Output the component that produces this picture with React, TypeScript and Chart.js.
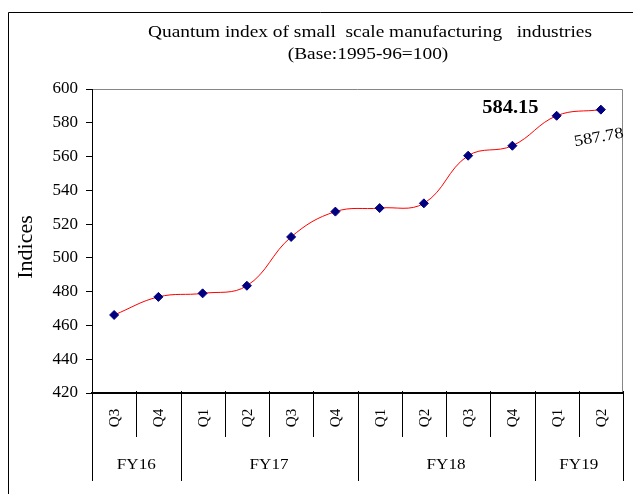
import React, { useEffect, useRef } from "react";
import { Chart, registerables } from "chart.js";

Chart.register(...registerables);

const quarters = ["Q3", "Q4", "Q1", "Q2", "Q3", "Q4", "Q1", "Q2", "Q3", "Q4", "Q1", "Q2"];
const fiscalYears = ["FY16", "FY17", "FY18", "FY19"];
const quartersPerYear = [2, 4, 4, 2];
const indices = [466.2, 476.9, 479.0, 483.5, 512.4, 527.4, 529.5, 532.3, 560.5, 566.4, 584.15, 587.78];
const yTicks = { min: 420, max: 600, step: 20 };
const titleLines = ["Quantum index of small  scale manufacturing   industries", "(Base:1995-96=100)"];
const yTitle = "Indices";
const labelledPoints = [10, 11];

const SERIF = "'Liberation Serif', 'Times New Roman', serif";
const STRETCH = 1.14;

function drawText(ctx: any, text: string, x: number, y: number, font: string, align: string, rot = 0, sx = STRETCH) {
  ctx.save();
  ctx.font = font;
  ctx.textAlign = align;
  ctx.textBaseline = "middle";
  ctx.translate(x, y);
  if (rot) ctx.rotate(rot);
  ctx.scale(sx, 1);
  ctx.fillText(text, 0, 0);
  ctx.restore();
}

const decorPlugin = {
  id: "decor",
  beforeDraw(chart: any) {
    const { ctx, chartArea } = chart;
    ctx.save();
    ctx.fillStyle = "#fff";
    ctx.fillRect(0, 0, chart.width, chart.height);
    ctx.strokeStyle = "#000";
    ctx.lineWidth = 1;
    ctx.beginPath();
    ctx.moveTo(8.5, chart.height);
    ctx.lineTo(8.5, 12.5);
    ctx.lineTo(chart.width, 12.5);
    ctx.stroke();
    ctx.strokeStyle = "#868686";
    ctx.beginPath();
    ctx.moveTo(chartArea.left, chartArea.top + 0.5);
    ctx.lineTo(chartArea.right - 0.5, chartArea.top + 0.5);
    ctx.lineTo(chartArea.right - 0.5, chartArea.bottom);
    ctx.stroke();
    ctx.fillStyle = "#000";
    drawText(ctx, titleLines[0], 370, 33, `17px ${SERIF}`, "center");
    drawText(ctx, titleLines[1], 368, 55, `17px ${SERIF}`, "center");
    ctx.restore();
  },
  afterDraw(chart: any) {
    const { ctx, chartArea } = chart;
    const xs = chart.scales.x;
    const w = xs.getPixelForValue(1) - xs.getPixelForValue(0);
    const bottom = chartArea.bottom;
    ctx.save();
    ctx.strokeStyle = "#000";
    ctx.fillStyle = "#000";
    ctx.lineWidth = 1;
    const groupStarts = new Set<number>();
    let acc = 0;
    quartersPerYear.forEach((n) => {
      groupStarts.add(acc);
      acc += n;
    });
    groupStarts.add(acc);
    for (let i = 0; i <= quarters.length; i++) {
      const bx = Math.round(xs.getPixelForValue(i) - w / 2) + 0.5;
      const isGroup = groupStarts.has(i);
      ctx.beginPath();
      ctx.moveTo(bx, bottom - 2);
      ctx.lineTo(bx, isGroup ? 481 : 437);
      ctx.stroke();
    }
    quarters.forEach((q, i) => {
      const px = xs.getPixelForValue(i);
      drawText(ctx, q, px + 1, 418, `15px ${SERIF}`, "center", -Math.PI / 2, 1);
    });
    acc = 0;
    fiscalYears.forEach((fy, g) => {
      const n = quartersPerYear[g];
      const x0 = xs.getPixelForValue(acc) - w / 2;
      const x1 = xs.getPixelForValue(acc + n - 1) + w / 2;
      drawText(ctx, fy, (x0 + x1) / 2, 465, `15px ${SERIF}`, "center");
      acc += n;
    });
    drawText(ctx, yTitle, 26, 247, `22px ${SERIF}`, "center", -Math.PI / 2, 1);
    const meta = chart.getDatasetMeta(0);
    const p1 = meta.data[labelledPoints[0]];
    drawText(ctx, indices[labelledPoints[0]].toFixed(2), p1.x - 18, p1.y - 7, `bold 18px ${SERIF}`, "right");
    const p2 = meta.data[labelledPoints[1]];
    drawText(ctx, indices[labelledPoints[1]].toFixed(2), p2.x - 2, p2.y + 28, `16px ${SERIF}`, "center", (-10 * Math.PI) / 180);
    ctx.restore();
  },
};

export default function App() {
  const ref = useRef<HTMLCanvasElement | null>(null);
  useEffect(() => {
    if (!ref.current) return;
    Chart.defaults.font.family = SERIF;
    const chart = new Chart(ref.current, {
      type: "line",
      data: {
        labels: quarters,
        datasets: [
          {
            data: indices,
            borderColor: "#ff0000",
            borderWidth: 1,
            tension: 0.4,
            pointStyle: "rectRot",
            pointRadius: 4.5,
            pointBackgroundColor: "#000080",
            pointBorderColor: "#000080",
            pointBorderWidth: 1,
            fill: false,
          },
        ],
      },
      options: {
        responsive: false,
        animation: false,
        devicePixelRatio: 1,
        layout: { padding: { top: 89, right: 10, left: 0, bottom: 0 } },
        plugins: { legend: { display: false }, tooltip: { enabled: false }, title: { display: false } },
        scales: {
          x: {
            type: "category",
            offset: true,
            ticks: { display: false },
            grid: { display: false },
            border: { display: true, color: "#000", width: 2 },
            afterFit: (s: any) => {
              s.height = 101;
            },
          },
          y: {
            min: yTicks.min,
            max: yTicks.max,
            ticks: {
              stepSize: yTicks.step,
              color: "#000",
              font: { size: 17, family: SERIF },
              padding: 8,
            },
            grid: { drawOnChartArea: false, tickLength: 6, color: "#000" },
            border: { display: true, color: "#000", width: 1 },
            afterFit: (s: any) => {
              s.width = 92;
            },
          },
        },
      },
      plugins: [decorPlugin],
    } as any);
    return () => chart.destroy();
  }, []);
  return (
    <div style={{ position: "fixed", left: 0, top: 0, width: 633, height: 494, background: "#fff" }}>
      <canvas ref={ref} width={633} height={494} style={{ width: 633, height: 494, display: "block" }} />
    </div>
  );
}
